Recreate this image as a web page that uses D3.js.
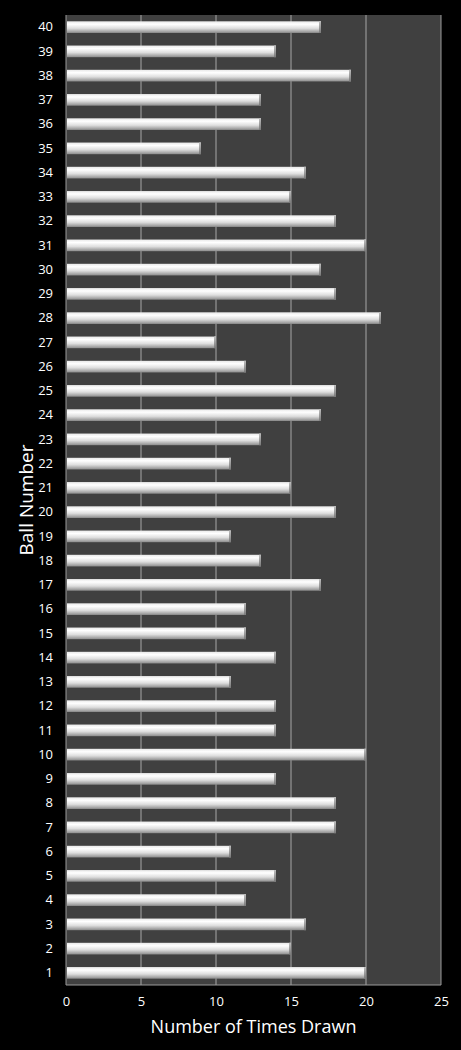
<!DOCTYPE html>
<html>
<head>
<meta charset="utf-8">
<script src="https://cdn.jsdelivr.net/npm/d3@7"></script>
<style>
  body { margin: 0; background: #000; }
  svg text { font-family: "Open Sans", "DejaVu Sans", sans-serif; fill: #fff; }
</style>
</head>
<body>
<div id="chart"></div>
<script>
// ball numbers 1..40 (bottom to top)
const balls = ['1','2','3','4','5','6','7','8','9','10','11','12','13','14','15','16','17','18','19','20',
  '21','22','23','24','25','26','27','28','29','30','31','32','33','34','35','36','37','38','39','40']
const timesDrawn = [20,15,16,12,14,11,18,18,14,20,14,14,11,14,12,12,17,13,11,18,
  15,11,13,17,18,12,10,21,18,17,20,18,15,16,9,13,13,19,14,17]
const xTicks = [0, 5, 10, 15, 20, 25]

const w = 461, h = 1050
const margin = {top: 15, right: 20, bottom: 65, left: 66}

const svg = d3.select('#chart').append('svg')
  .attr('width', w)
  .attr('height', h)

const xScale = d3.scaleLinear()
  .domain([0, 25])
  .range([margin.left, w - margin.right])

const yScale = d3.scaleBand()
  .domain(balls.slice().reverse())
  .range([margin.top, h - margin.bottom])
  .paddingInner(0.52)
  .paddingOuter(0.26)

//GRADIENT FOR BARS
const defs = svg.append('defs')
const grad = defs.append('linearGradient')
  .attr('id', 'barGrad')
  .attr('x1', 0).attr('y1', 0).attr('x2', 0).attr('y2', 1)
grad.append('stop').attr('offset', '0%').attr('stop-color', '#e8e8e8')
grad.append('stop').attr('offset', '25%').attr('stop-color', '#ffffff')
grad.append('stop').attr('offset', '60%').attr('stop-color', '#dedede')
grad.append('stop').attr('offset', '100%').attr('stop-color', '#8c8c8c')

const capGrad = defs.append('linearGradient')
  .attr('id', 'capGrad')
  .attr('x1', 0).attr('y1', 0).attr('x2', 0).attr('y2', 1)
capGrad.append('stop').attr('offset', '0%').attr('stop-color', '#bdbdbd')
capGrad.append('stop').attr('offset', '100%').attr('stop-color', '#7a7a7a')

//PLOT AREA
svg.append('rect')
  .attr('x', margin.left)
  .attr('y', margin.top)
  .attr('width', xScale(25) - margin.left)
  .attr('height', h - margin.bottom - margin.top)
  .attr('fill', '#404040')

//GRIDLINES
svg.append('g')
  .selectAll('line')
  .data(xTicks.slice(1, -1))
  .enter()
  .append('line')
  .attr('x1', d => xScale(d)).attr('x2', d => xScale(d))
  .attr('y1', margin.top).attr('y2', h - margin.bottom)
  .attr('stroke', '#a6a6a6')
  .attr('stroke-width', 1)

// plot border (left, bottom, right)
svg.append('path')
  .attr('d', `M${margin.left},${margin.top}V${h - margin.bottom}H${xScale(25)}V${margin.top}`)
  .attr('fill', 'none')
  .attr('stroke', '#9a9a9a')
  .attr('stroke-width', 1)

//BARS
const bars = svg.append('g')
  .selectAll('g')
  .data(balls)
  .enter()
  .append('g')

bars.append('rect')
  .attr('x', xScale(0) + 1)
  .attr('y', d => yScale(d))
  .attr('width', (d, i) => xScale(timesDrawn[i]) - xScale(0) - 1)
  .attr('height', yScale.bandwidth())
  .attr('fill', 'url(#barGrad)')

bars.append('rect')
  .attr('x', (d, i) => xScale(timesDrawn[i]) - 2)
  .attr('y', d => yScale(d))
  .attr('width', 2)
  .attr('height', yScale.bandwidth())
  .attr('fill', 'url(#capGrad)')

//AXES
const xaxis = d3.axisBottom(xScale).tickValues(xTicks).tickSize(0).tickPadding(12)
svg.append('g')
  .attr('transform', `translate(0,${h - margin.bottom})`)
  .call(xaxis)
  .call(g => g.select('.domain').remove())
  .selectAll('text')
  .attr('font-size', 13)
  .style('font-family', '"Open Sans", "DejaVu Sans", sans-serif')
  .attr('fill', '#fff')

const yaxis = d3.axisLeft(yScale).tickSize(0).tickPadding(13)
svg.append('g')
  .attr('transform', `translate(${margin.left},0)`)
  .call(yaxis)
  .call(g => g.select('.domain').remove())
  .selectAll('text')
  .attr('font-size', 13)
  .style('font-family', '"Open Sans", "DejaVu Sans", sans-serif')
  .attr('fill', '#fff')

// axis titles
svg.append('text')
  .text('Number of Times Drawn')
  .attr('text-anchor', 'middle')
  .attr('font-size', 18)
  .attr('transform', `translate(${(margin.left + xScale(25)) / 2},${h - 17})`)

svg.append('text')
  .text('Ball Number')
  .attr('text-anchor', 'middle')
  .attr('font-size', 19)
  .attr('transform', `translate(33,${(margin.top + h - margin.bottom) / 2}) rotate(-90)`)
</script>
</body>
</html>
